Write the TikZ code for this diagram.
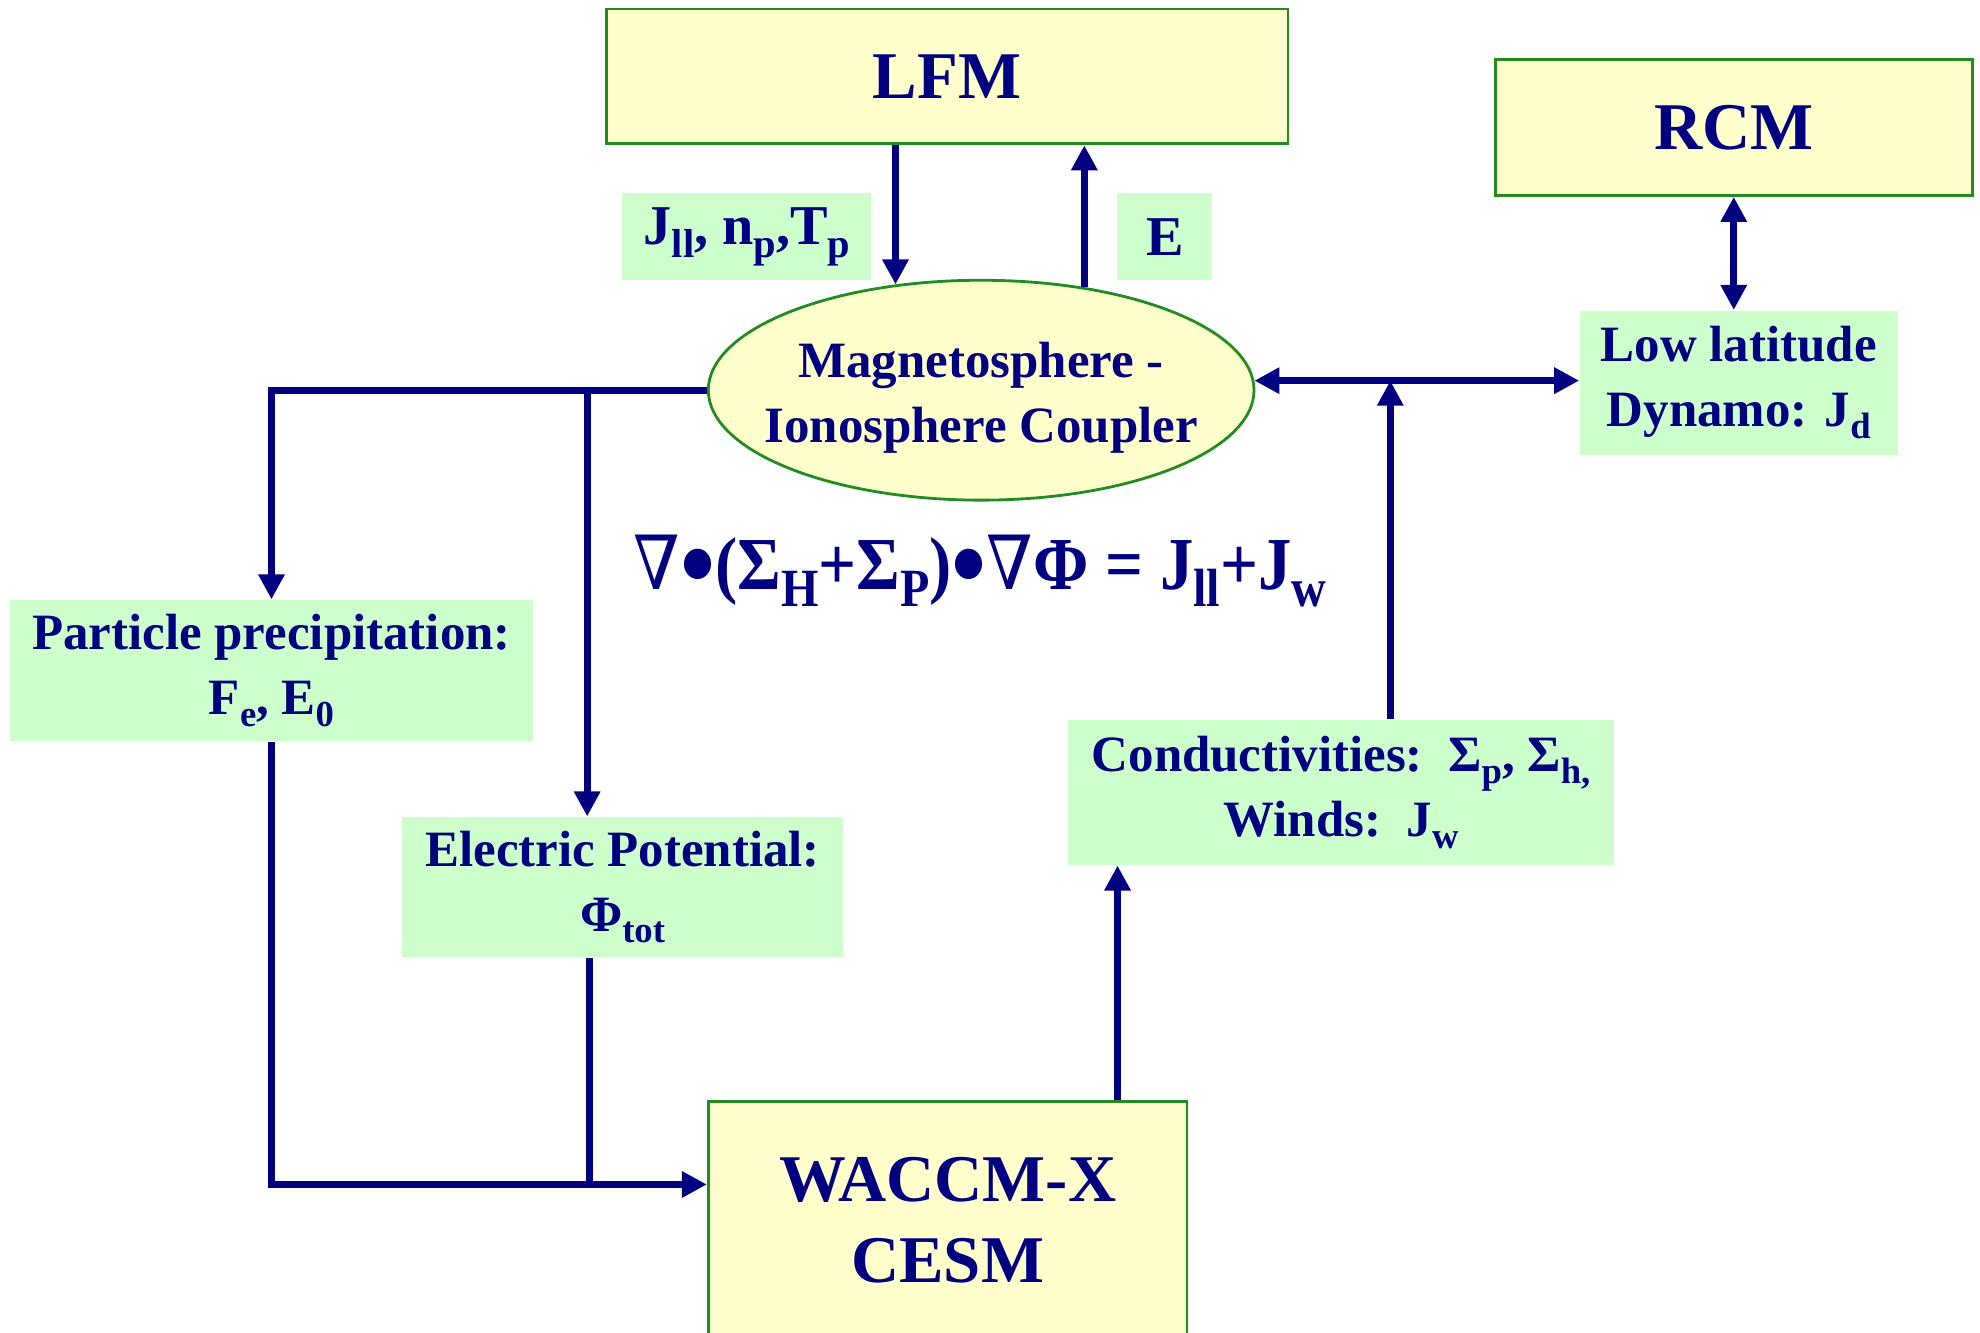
\documentclass[tikz,border=0pt]{standalone}
\usepackage{fontspec}
\usepackage{graphicx}
\setmainfont{Liberation Serif}
\newfontfamily\dejavu{DejaVu Serif}
\usetikzlibrary{arrows.meta,shapes.geometric}
\definecolor{navy}{RGB}{0,0,128}
\definecolor{boxgreen}{RGB}{34,139,34}
\definecolor{paleyellow}{RGB}{255,255,204}
\definecolor{palegreen}{RGB}{204,255,204}
\newcommand{\sub}[1]{\raisebox{-0.5ex}{\scalebox{0.72}{#1}}}
\newcommand{\nab}{{\dejavu\mdseries\char"2207}}
\newcommand{\dotop}{\raisebox{-0.16em}{\scalebox{1.5}{•}}}
\begin{document}
\begin{tikzpicture}[x=0.01263cm,y=-0.01263cm,>={Triangle[length=0.25cm,width=0.25cm]}]
\tikzstyle{model}=[draw=boxgreen,line width=0.8pt,fill=paleyellow,text=navy,font=\fontsize{19}{23}\selectfont\bfseries,align=center,inner sep=0pt]
\tikzstyle{info}=[fill=palegreen,text=navy,font=\fontsize{14.5}{18.5}\selectfont\bfseries,align=center,inner sep=0pt]
\tikzstyle{coupler}=[ellipse,draw=boxgreen,line width=0.8pt,fill=paleyellow,inner sep=0pt]
\tikzstyle{flow}=[navy,line width=1.9pt,->]
\tikzstyle{both}=[flow,<->]
\tikzstyle{link}=[navy,line width=1.9pt]
\useasboundingbox (0,0) rectangle (1568,1055);
% models
\node[model,minimum width=6.82cm,minimum height=1.35cm] (LFM) at (750,60.5) {LFM};
\node[model,minimum width=4.77cm,minimum height=1.36cm] (RCM) at (1373,101) {RCM};
\node[model,minimum width=4.79cm,minimum height=2.37cm] (WAC) at (750.5,966) {WACCM-X\\CESM};
% coupler
\node[coupler,minimum width=5.46cm,minimum height=2.2cm] (MIC) at (777,309) {};
\node[text=navy,font=\fontsize{14.5}{18.5}\selectfont\bfseries,align=center] (MICtext) at (777,315) {Magnetosphere -\\Ionosphere Coupler};
% exchanged quantities
\node[info,font=\fontsize{16}{19}\selectfont\bfseries,minimum width=2.49cm,minimum height=0.87cm] (Jll) at (591.5,187.5) {J\sub{ll}, n\sub{p},T\sub{p}};
\node[info,font=\fontsize{16}{19}\selectfont\bfseries,minimum width=0.95cm,minimum height=0.87cm] (E) at (922.5,187.5) {E};
\node[info,minimum width=3.18cm,minimum height=1.44cm] (Dyn) at (1377,303) {Low latitude\\Dynamo: J\sub{d}};
\node[info,minimum width=5.23cm,minimum height=1.41cm] (Precip) at (215,531) {Particle precipitation:\\F\sub{e}, E\sub{0}};
\node[info,minimum width=4.42cm,minimum height=1.40cm] (Pot) at (493,702.5) {Electric Potential:\\Φ\sub{tot}};
\node[info,minimum width=5.46cm,minimum height=1.45cm] (Cond) at (1062,627.5) {Conductivities:\ \ Σ\sub{p}, Σ\sub{h,}\\Winds:\ \ J\sub{w}};
\node[text=navy,font=\fontsize{19}{23}\selectfont\bfseries] (eq) at (776,452) {\scalebox{1}[1.12]{\nab\dotop(Σ\sub{H}+Σ\sub{P})\dotop\nab Φ = J\sub{ll}+J\sub{w}}};
% connectors
\coordinate (tap) at (465,311);
\coordinate (riser) at (1101,685);
\coordinate (merge) at (467,938);
\coordinate (feed) at (885,872);
\draw[flow] (MIC.129 |- LFM.south) -- (MIC.129);
\draw[flow] (MIC.45) -- (MIC.45 |- LFM.south);
\draw[both] (RCM.south) -- (RCM.south |- Dyn.north);
\draw[both] (MIC.2) -- (MIC.2 -| Dyn.west);
\draw[flow] (riser |- Cond.north) -- (riser |- MIC.2);
\draw[flow] (MIC.west) -| (Precip.north);
\draw[flow] (MIC.west -| tap) -- (tap |- Pot.north);
\draw[flow] (Precip.south) |- (merge -| WAC.west);
\draw[link] (merge |- Pot.south) -- (merge);
\draw[flow] (feed |- WAC.north) -- (feed |- Cond.south);
\end{tikzpicture}
\end{document}
